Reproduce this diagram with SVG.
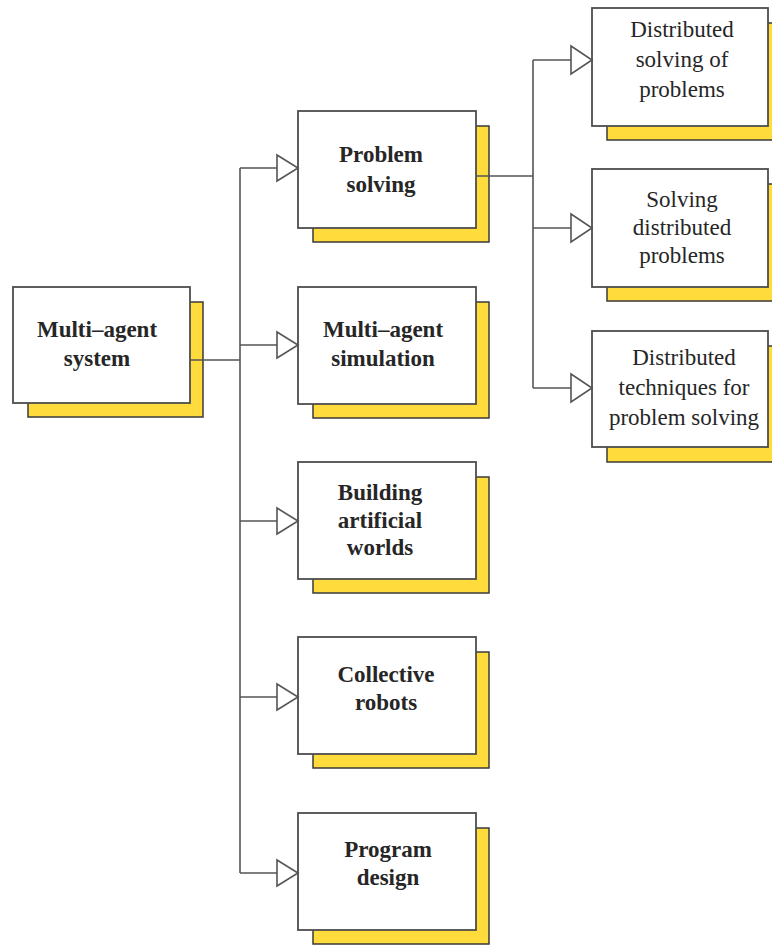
<svg xmlns="http://www.w3.org/2000/svg" width="772" height="945" viewBox="0 0 772 945">
  <style>
    .shadow { fill: #FFDC3C; stroke: #3a3a3a; stroke-width: 1.5; }
    .box { fill: #ffffff; stroke: #4d4d4d; stroke-width: 1.8; }
    .lbl { font-family: "Liberation Serif", "Times New Roman", serif; font-size: 23px; fill: #262626; text-anchor: middle; }
    .bold { font-weight: bold; }
    .wire { fill: none; stroke: #555555; stroke-width: 1.6; }
    .head { fill: #ffffff; stroke: #555555; stroke-width: 1.6; stroke-linejoin: miter; }
  </style>
  <rect width="772" height="945" fill="#ffffff"/>

  <!-- root -->
  <g id="mas">
    <rect class="shadow" x="28" y="302" width="175" height="115"/>
    <rect class="box" x="13" y="287" width="177" height="116"/>
    <text class="lbl bold" x="97" y="337">Multi–agent</text>
    <text class="lbl bold" x="97" y="366">system</text>
  </g>

  <!-- first level -->
  <g id="problem-solving">
    <rect class="shadow" x="313" y="126" width="176" height="116"/>
    <rect class="box" x="298" y="111" width="178" height="117"/>
    <text class="lbl bold" x="381" y="162">Problem</text>
    <text class="lbl bold" x="381" y="192">solving</text>
  </g>
  <g id="simulation">
    <rect class="shadow" x="313" y="302" width="176" height="116"/>
    <rect class="box" x="298" y="287" width="178" height="117"/>
    <text class="lbl bold" x="383" y="337">Multi–agent</text>
    <text class="lbl bold" x="383" y="366">simulation</text>
  </g>
  <g id="artificial-worlds">
    <rect class="shadow" x="313" y="477" width="176" height="116"/>
    <rect class="box" x="298" y="462" width="178" height="117"/>
    <text class="lbl bold" x="380" y="500">Building</text>
    <text class="lbl bold" x="380" y="528">artificial</text>
    <text class="lbl bold" x="380" y="555">worlds</text>
  </g>
  <g id="robots">
    <rect class="shadow" x="313" y="652" width="176" height="116"/>
    <rect class="box" x="298" y="637" width="178" height="117"/>
    <text class="lbl bold" x="386" y="682">Collective</text>
    <text class="lbl bold" x="386" y="710">robots</text>
  </g>
  <g id="program-design">
    <rect class="shadow" x="313" y="828" width="176" height="116"/>
    <rect class="box" x="298" y="813" width="178" height="117"/>
    <text class="lbl bold" x="388" y="857">Program</text>
    <text class="lbl bold" x="388" y="885">design</text>
  </g>

  <!-- second level -->
  <g id="distributed-solving">
    <rect class="shadow" x="607" y="23" width="176" height="117"/>
    <rect class="box" x="592" y="8" width="176" height="118"/>
    <text class="lbl" x="682" y="37">Distributed</text>
    <text class="lbl" x="682" y="67">solving of</text>
    <text class="lbl" x="682" y="97">problems</text>
  </g>
  <g id="solving-distributed">
    <rect class="shadow" x="607" y="184" width="176" height="117"/>
    <rect class="box" x="592" y="169" width="176" height="118"/>
    <text class="lbl" x="682" y="207">Solving</text>
    <text class="lbl" x="682" y="235">distributed</text>
    <text class="lbl" x="682" y="263">problems</text>
  </g>
  <g id="distributed-techniques">
    <rect class="shadow" x="607" y="346" width="176" height="116"/>
    <rect class="box" x="592" y="331" width="176" height="116"/>
    <text class="lbl" x="684" y="365">Distributed</text>
    <text class="lbl" x="684" y="395">techniques for</text>
    <text class="lbl" x="684" y="425">problem solving</text>
  </g>

  <!-- connectors -->
  <g id="connectors">
    <path class="wire" d="M190 360 H240 M240 168 V873 M240 168 H277 M240 345 H277 M240 521 H277 M240 697 H277 M240 873 H277"/>
    <path class="wire" d="M476 176 H533 M533 60 V388 M533 60 H571 M533 228 H571 M533 388 H571"/>
    <polygon class="head" points="277,155 298,168 277,181"/>
    <polygon class="head" points="277,332 298,345 277,358"/>
    <polygon class="head" points="277,508 298,521 277,534"/>
    <polygon class="head" points="277,684 298,697 277,710"/>
    <polygon class="head" points="277,860 298,873 277,886"/>
    <polygon class="head" points="571,46 592,60 571,74"/>
    <polygon class="head" points="571,214 592,228 571,242"/>
    <polygon class="head" points="571,374 592,388 571,402"/>
  </g>
</svg>
